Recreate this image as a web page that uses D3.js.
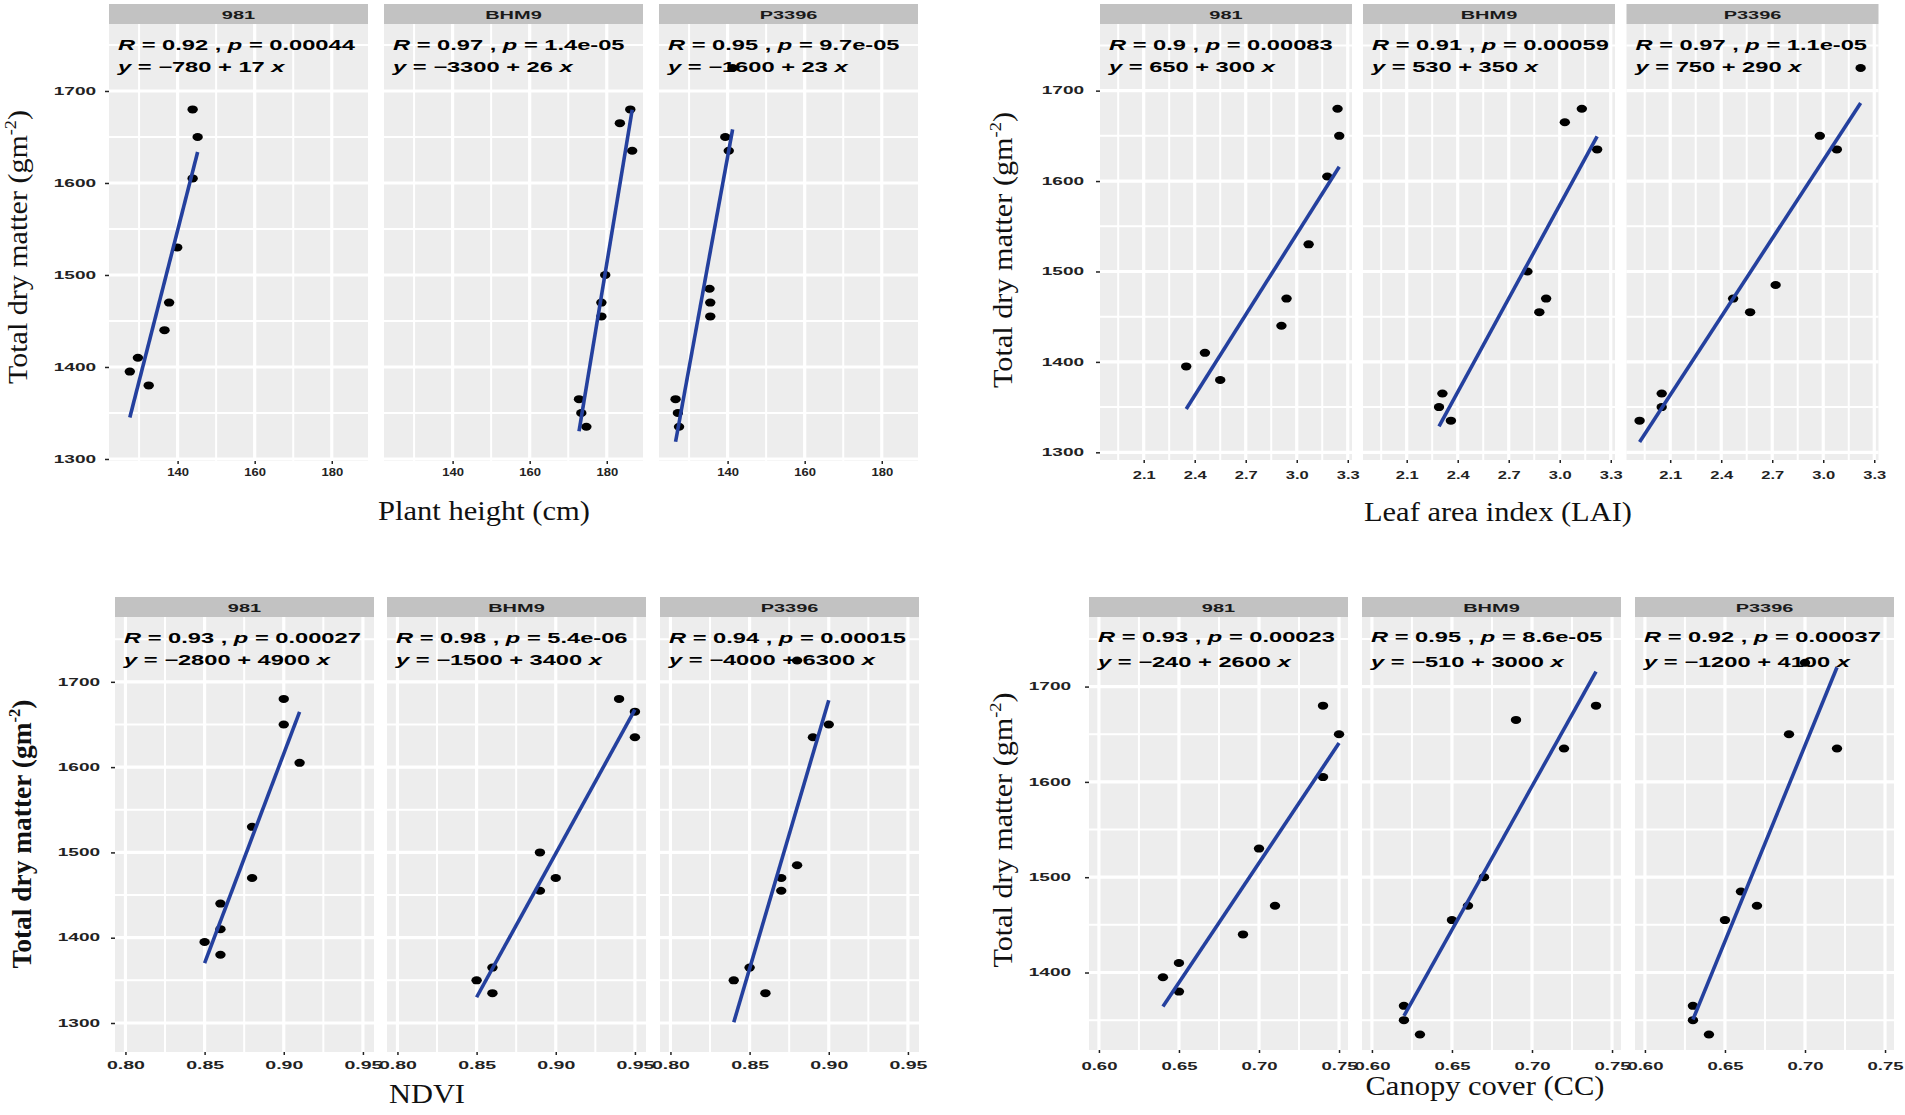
<!DOCTYPE html>
<html><head><meta charset="utf-8">
<script src="https://cdn.jsdelivr.net/npm/d3@7"></script>
<style>body{margin:0;background:#fff;} svg{display:block;}</style>
</head><body>
<svg id="chart" width="1905" height="1115"></svg>
<script>
// ---------------- DATA ----------------
const cultivars = ["981", "BHM9", "P3396"];

// Total dry matter (g m-2) per cultivar (same plots in every predictor panel)
const tdm981   = [1680, 1650, 1605, 1530, 1470, 1440, 1410, 1395, 1380];
const tdmBHM9  = [1680, 1665, 1635, 1500, 1470, 1455, 1365, 1350, 1335];
const tdmP3396 = [1725, 1650, 1635, 1485, 1470, 1455, 1365, 1350, 1335];

// Plant height (cm)
const height981   = [143.9, 145.2, 143.9, 139.9, 137.8, 136.6, 129.7, 127.6, 132.5];
const heightBHM9  = [186.1, 183.4, 186.6, 179.6, 178.6, 178.6, 172.8, 173.4, 174.7];
const heightP3396 = [141.3, 139.4, 140.3, 135.3, 135.5, 135.5, 126.5, 127.1, 127.4];

// Leaf area index
const lai981   = [3.24, 3.25, 3.18, 3.07, 2.94, 2.91, 2.46, 2.35, 2.55];
const laiBHM9  = [3.13, 3.03, 3.22, 2.81, 2.92, 2.88, 2.31, 2.29, 2.36];
const laiP3396 = [3.22, 2.98, 3.08, 2.72, 2.47, 2.57, 2.05, 2.05, 1.92];

// NDVI
const ndvi981   = [0.90, 0.90, 0.91, 0.88, 0.88, 0.86, 0.86, 0.85, 0.86];
const ndviBHM9  = [0.94, 0.95, 0.95, 0.89, 0.90, 0.89, 0.86, 0.85, 0.86];
const ndviP3396 = [0.88, 0.90, 0.89, 0.88, 0.87, 0.87, 0.85, 0.84, 0.86];

// Canopy cover
const cc981   = [0.74, 0.75, 0.74, 0.70, 0.71, 0.69, 0.65, 0.64, 0.65];
const ccBHM9  = [0.74, 0.69, 0.72, 0.67, 0.66, 0.65, 0.62, 0.62, 0.63];
const ccP3396 = [0.70, 0.69, 0.72, 0.66, 0.67, 0.65, 0.63, 0.63, 0.64];

// Tick labels
const yTicks      = [1300, 1400, 1500, 1600, 1700];
const heightTicks = [140, 160, 180];
const laiTicks    = [2.1, 2.4, 2.7, 3.0, 3.3];
const ndviTicks   = [0.80, 0.85, 0.90, 0.95];
const ccTicks     = [0.60, 0.65, 0.70, 0.75];

// Statistic labels
const heightR  = ["0.92", "0.97", "0.95"];
const heightP  = ["0.00044", "1.4e-05", "9.7e-05"];
const heightEq = ["\u2212780 + 17", "\u22123300 + 26", "\u22121600 + 23"];
const laiR  = ["0.9", "0.91", "0.97"];
const laiP  = ["0.00083", "0.00059", "1.1e-05"];
const laiEq = ["650 + 300", "530 + 350", "750 + 290"];
const ndviR  = ["0.93", "0.98", "0.94"];
const ndviP  = ["0.00027", "5.4e-06", "0.00015"];
const ndviEq = ["\u22122800 + 4900", "\u22121500 + 3400", "\u22124000 + 6300"];
const ccR  = ["0.93", "0.95", "0.92"];
const ccP  = ["0.00023", "8.6e-05", "0.00037"];
const ccEq = ["\u2212240 + 2600", "\u2212510 + 3000", "\u22121200 + 4100"];

const tdm = [tdm981, tdmBHM9, tdmP3396];

// ---------------- LAYOUT ----------------
const groups = [
  { xs: [height981, heightBHM9, heightP3396], ticks: heightTicks, fmt: d3.format("d"),
    R: heightR, P: heightP, Eq: heightEq, title: "Plant height (cm)",
    xDomain: [122.2, 189.4], yDomain: [1297.8, 1772.8], left: [109, 384, 659], width: 259,
    stripTop: 4, top: 24, bottom: 461, stat: [50, 72], xPad: 5, yPad: 9, xk: 1.3, yk: 1.9,
    xTitle: { x: 484, y: 520, w: 212 }, yTitle: { x: 26.5, y: 247, w: 274, bold: false } },
  { xs: [lai981, laiBHM9, laiP3396], ticks: laiTicks, fmt: d3.format(".1f"),
    R: laiR, P: laiP, Eq: laiEq, title: "Leaf area index (LAI)",
    xDomain: [1.843, 3.325], yDomain: [1291.5, 1773.7], left: [1100, 1363, 1626.5], width: 252,
    stripTop: 4, top: 24, bottom: 460, stat: [50, 72], xPad: 9, yPad: 12, xk: 1.65, yk: 1.9,
    xTitle: { x: 1498, y: 521, w: 268 }, yTitle: { x: 1012, y: 250, w: 276, bold: false } },
  { xs: [ndvi981, ndviBHM9, ndviP3396], ticks: ndviTicks, fmt: d3.format(".2f"),
    R: ndviR, P: ndviP, Eq: ndviEq, title: "NDVI",
    xDomain: [0.7934, 0.957], yDomain: [1266, 1776], left: [115, 387, 660], width: 259,
    stripTop: 597, top: 617, bottom: 1052, stat: [643, 665], xPad: 7, yPad: 11, xk: 1.95, yk: 1.9,
    xTitle: { x: 427, y: 1103, w: 76 }, yTitle: { x: 31, y: 834, w: 269, bold: true } },
  { xs: [cc981, ccBHM9, ccP3396], ticks: ccTicks, fmt: d3.format(".2f"),
    R: ccR, P: ccP, Eq: ccEq, title: "Canopy cover (CC)",
    xDomain: [0.5938, 0.7556], yDomain: [1318.7, 1773], left: [1089, 1362, 1635], width: 259,
    stripTop: 597, top: 617, bottom: 1050, stat: [642, 667], xPad: 10, yPad: 14, xk: 1.85, yk: 1.9,
    xTitle: { x: 1485, y: 1095, w: 239 }, yTitle: { x: 1012, y: 830, w: 275, bold: false } }
];

const SANS = "'Liberation Sans', Arial, Helvetica, sans-serif";
const SERIF = "'Liberation Serif', 'Times New Roman', serif";
const svg = d3.select("#chart");

function stretch(sel, k) {
  sel.each(function () {
    const len = this.getComputedTextLength();
    d3.select(this).attr("textLength", len * k).attr("lengthAdjust", "spacingAndGlyphs");
  });
}
function minorOf(ticks, domain) {
  const step = ticks[1] - ticks[0];
  const out = ticks.map(t => t - step / 2).concat([ticks[ticks.length - 1] + step / 2]);
  return out.filter(v => v >= Math.min(...domain) && v <= Math.max(...domain));
}
function lm(xs, ys) {
  const mx = d3.mean(xs), my = d3.mean(ys);
  let sxy = 0, sxx = 0;
  xs.forEach((x, i) => { sxy += (x - mx) * (ys[i] - my); sxx += (x - mx) * (x - mx); });
  const b = sxy / sxx;
  return { a: my - b * mx, b };
}

groups.forEach(g => {
  const y = d3.scaleLinear().domain(g.yDomain).range([g.bottom, g.top]);
  const yT = yTicks.filter(v => v >= g.yDomain[0] && v <= g.yDomain[1]);
  const yMinor = minorOf(yTicks, g.yDomain);

  g.left.forEach((L, i) => {
    const x = d3.scaleLinear().domain(g.xDomain).range([L, L + g.width]);
    const gp = svg.append("g");
    // strip
    gp.append("rect").attr("x", L).attr("y", g.stripTop).attr("width", g.width)
      .attr("height", g.top - g.stripTop).attr("fill", "#c2c2c2");
    gp.append("text").attr("x", L + g.width / 2).attr("y", (g.stripTop + g.top) / 2 + 0.5)
      .attr("text-anchor", "middle").attr("dominant-baseline", "central")
      .attr("font-family", SANS).attr("font-weight", "bold").attr("font-size", 10.5)
      .attr("fill", "#1a1a1a").text(cultivars[i]).call(stretch, 1.9);
    // panel background
    gp.append("rect").attr("x", L).attr("y", g.top).attr("width", g.width)
      .attr("height", g.bottom - g.top).attr("fill", "#ededed");
    // grid
    const grid = gp.append("g").attr("stroke", "#fff");
    grid.selectAll(".ymin").data(yMinor).join("line")
      .attr("x1", L).attr("x2", L + g.width).attr("y1", d => y(d)).attr("y2", d => y(d)).attr("stroke-width", 2);
    grid.selectAll(".xmin").data(minorOf(g.ticks, g.xDomain)).join("line")
      .attr("y1", g.top).attr("y2", g.bottom).attr("x1", d => x(d)).attr("x2", d => x(d)).attr("stroke-width", 2);
    grid.selectAll(".ymaj").data(yT).join("line")
      .attr("x1", L).attr("x2", L + g.width).attr("y1", d => y(d)).attr("y2", d => y(d)).attr("stroke-width", 3.2);
    grid.selectAll(".xmaj").data(g.ticks).join("line")
      .attr("y1", g.top).attr("y2", g.bottom).attr("x1", d => x(d)).attr("x2", d => x(d)).attr("stroke-width", 3.2);

    // points
    const xs = g.xs[i], ys = tdm[i];
    gp.selectAll("ellipse").data(xs.map((v, j) => [v, ys[j]])).join("ellipse")
      .attr("cx", d => x(d[0])).attr("cy", d => y(d[1])).attr("rx", 5.2).attr("ry", 4).attr("fill", "#000");

    // regression line
    const fit = lm(xs, ys);
    const x0 = d3.min(xs), x1 = d3.max(xs);
    gp.append("path").datum([x0, x1])
      .attr("d", d3.line().x(d => x(d)).y(d => y(fit.a + fit.b * d)))
      .attr("stroke", "#24409e").attr("stroke-width", 3.6).attr("fill", "none");

    // statistics labels
    const st = gp.append("g").attr("font-family", SANS).attr("font-weight", "bold")
      .attr("font-size", 14).attr("fill", "#000");
    const t1 = st.append("text").attr("x", L + 9).attr("y", g.stat[0]);
    t1.append("tspan").attr("font-style", "italic").text("R");
    t1.append("tspan").text(" = " + g.R[i] + " , ");
    t1.append("tspan").attr("font-style", "italic").text("p");
    t1.append("tspan").text(" = " + g.P[i]);
    t1.call(stretch, 1.69);
    const t2 = st.append("text").attr("x", L + 9).attr("y", g.stat[1]);
    t2.append("tspan").attr("font-style", "italic").text("y");
    t2.append("tspan").text(" = " + g.Eq[i] + " ");
    t2.append("tspan").attr("font-style", "italic").text("x");
    t2.call(stretch, 1.69);

    // x axis
    const ax = gp.append("g").attr("transform", `translate(0,${g.bottom})`)
      .call(d3.axisBottom(x).tickValues(g.ticks).tickFormat(g.fmt).tickSize(3).tickPadding(g.xPad));
    ax.select(".domain").remove();
    ax.selectAll(".tick line").attr("stroke", "#222").attr("stroke-width", 1.5);
    ax.selectAll(".tick text").attr("font-family", SANS).attr("font-weight", "bold")
      .attr("font-size", 10).attr("fill", "#222").call(stretch, g.xk);

    // y axis on first panel only
    if (i === 0) {
      const ay = gp.append("g").attr("transform", `translate(${L},0)`)
        .call(d3.axisLeft(y).tickValues(yT).tickFormat(d3.format("d")).tickSize(4).tickPadding(g.yPad));
      ay.select(".domain").remove();
      ay.selectAll(".tick line").attr("stroke", "#222").attr("stroke-width", 1.5);
      ay.selectAll(".tick text").attr("font-family", SANS).attr("font-weight", "bold")
        .attr("font-size", 10).attr("fill", "#222").call(stretch, g.yk);
    }
  });

  // axis titles
  svg.append("text").attr("x", g.xTitle.x).attr("y", g.xTitle.y)
    .attr("text-anchor", "middle").attr("font-family", SERIF).attr("font-size", 28)
    .attr("fill", "#111").attr("textLength", g.xTitle.w).attr("lengthAdjust", "spacingAndGlyphs")
    .text(g.title);

  const yt = svg.append("text")
    .attr("transform", `translate(${g.yTitle.x},${g.yTitle.y}) rotate(-90)`)
    .attr("text-anchor", "middle").attr("font-family", SERIF).attr("font-size", 28)
    .attr("font-weight", g.yTitle.bold ? "bold" : "normal").attr("fill", "#111")
    .attr("textLength", g.yTitle.w).attr("lengthAdjust", "spacingAndGlyphs");
  yt.append("tspan").text("Total dry matter (gm");
  yt.append("tspan").attr("font-size", 17).attr("dy", -11).text("-2");
  yt.append("tspan").attr("dy", 11).text(")");
});
</script>
</body></html>
